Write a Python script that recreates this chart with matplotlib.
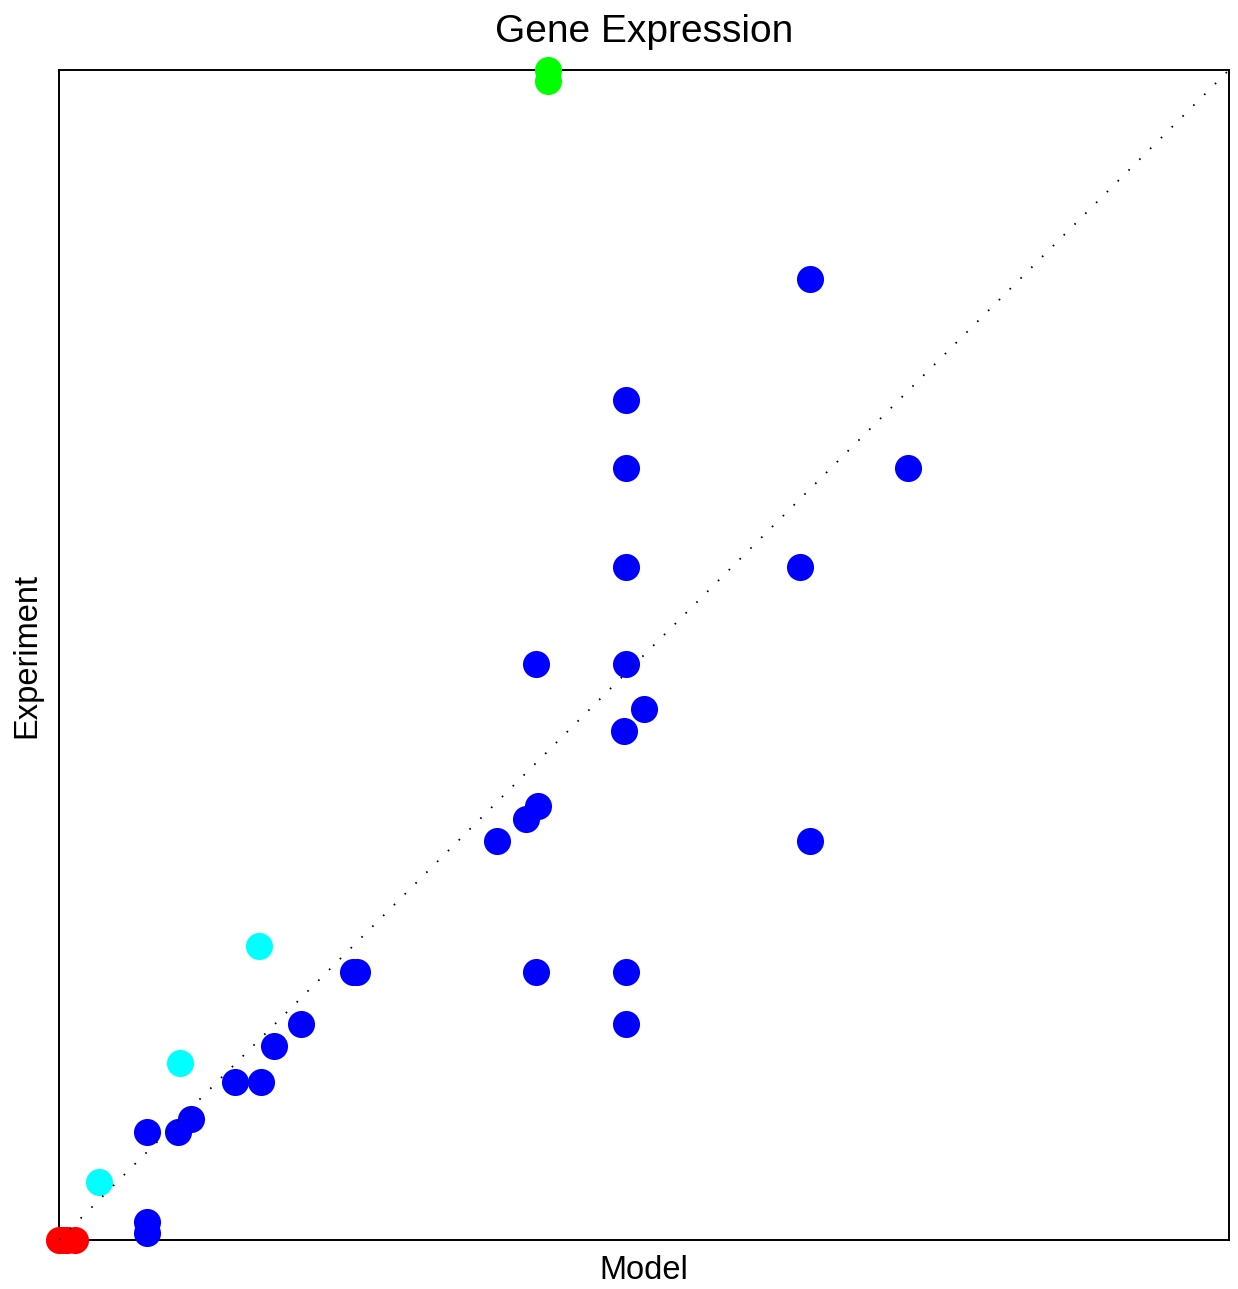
import matplotlib.pyplot as plt

plt.rcParams['font.family'] = ['Liberation Sans', 'DejaVu Sans']
plt.rcParams['lines.scale_dashes'] = False

# model vs experiment, normalised to the 0..1 range of each axis
blue_model = [0.642, 0.485, 0.485, 0.726, 0.485, 0.633, 0.408, 0.485, 0.500, 0.483,
              0.409, 0.399, 0.374, 0.642, 0.251, 0.255, 0.408, 0.485, 0.485, 0.207,
              0.184, 0.150, 0.173, 0.075, 0.102, 0.113, 0.075, 0.075]
blue_expt = [0.821, 0.718, 0.660, 0.660, 0.575, 0.575, 0.492, 0.492, 0.454, 0.435,
             0.371, 0.360, 0.341, 0.341, 0.229, 0.229, 0.229, 0.229, 0.185, 0.185,
             0.166, 0.135, 0.135, 0.092, 0.092, 0.103, 0.015, 0.006]

cyan_model = [0.171, 0.103, 0.034]
cyan_expt = [0.251, 0.151, 0.050]

green_model = [0.418, 0.418]
green_expt = [1.0, 0.991]

red_model = [0.0, 0.003, 0.007, 0.014]
red_expt = [0.0, 0.0, 0.0, 0.0]

fig = plt.figure(figsize=(12.38, 12.89), dpi=100)
ax = fig.add_axes([59 / 1238, 49 / 1289, 1170 / 1238, 1170 / 1289])

ms = 19.5
ax.plot(blue_model, blue_expt, 'o', color='#0000ff', ms=ms, mec='none', clip_on=False, zorder=3)
ax.plot(cyan_model, cyan_expt, 'o', color='#00ffff', ms=ms, mec='none', clip_on=False, zorder=3)
ax.plot(green_model, green_expt, 'o', color='#00ff00', ms=ms, mec='none', clip_on=False, zorder=3)
ax.plot(red_model, red_expt, 'o', color='#ff0000', ms=ms, mec='none', clip_on=False, zorder=3)

# identity line
ax.plot([0, 1], [0, 1], color='black', lw=1.3, dashes=(1.2, 9.8), zorder=4)

ax.set_xlim(0, 1)
ax.set_ylim(0, 1)
ax.set_xticks([])
ax.set_yticks([])
for sp in ax.spines.values():
    sp.set_linewidth(1.4)

ax.set_title('Gene Expression', fontsize=28, pad=20)
ax.set_xlabel('Model', fontsize=23.5, labelpad=11)
ax.set_ylabel('Experiment', fontsize=23.5, labelpad=12)

fig.savefig('out.png', dpi=100)
